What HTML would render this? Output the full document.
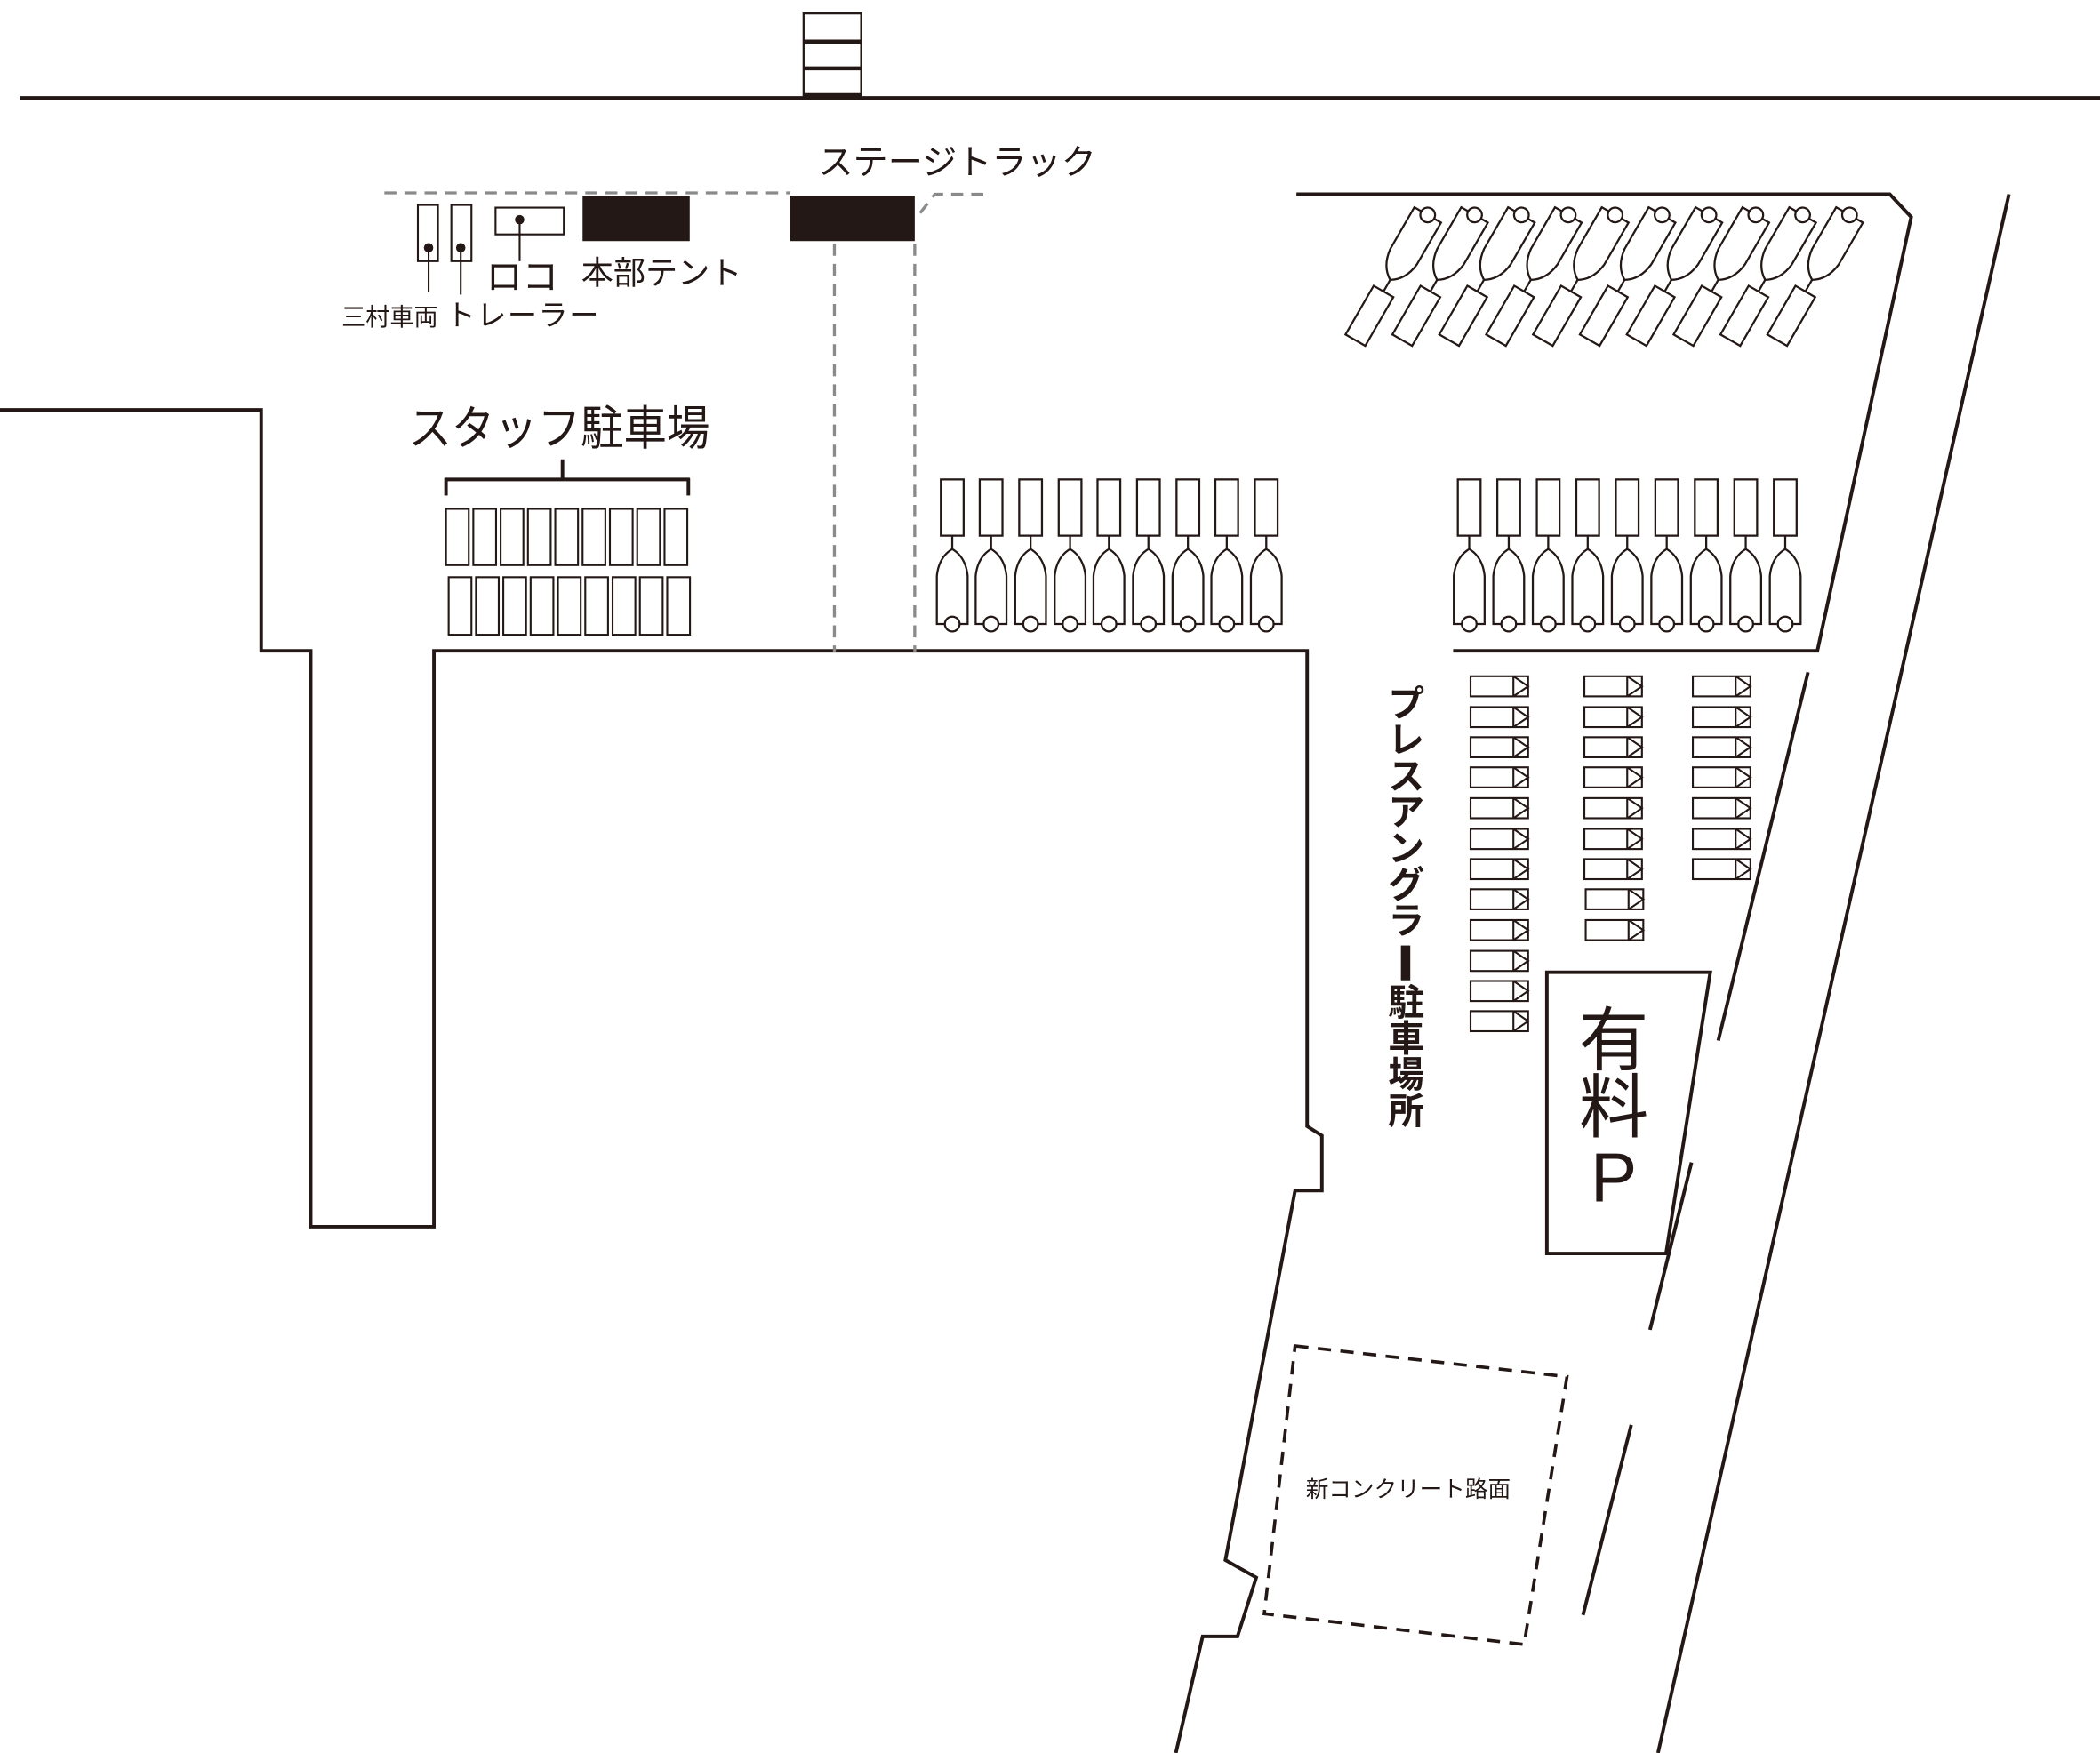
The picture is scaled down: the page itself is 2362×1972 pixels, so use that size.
<!DOCTYPE html>
<html><head><meta charset="utf-8"><style>
html,body{margin:0;padding:0;background:#fff;}
svg{display:block;}
text{font-family:"Liberation Sans","Noto Sans CJK JP",sans-serif;fill:#231815;}
</style></head><body>
<svg width="2362" height="1972" viewBox="0 0 1568 1309" xmlns="http://www.w3.org/2000/svg">
<defs>
<g id="tr" fill="#fff" stroke="#231815" stroke-width="1.5">
<rect x="-8.5" y="0" width="17" height="42"/>
<line x1="0" y1="42" x2="0" y2="52"/>
<path d="M-11.5,108 L-11.5,72 Q-10,58 0,52 Q10,58 11.5,72 L11.5,108 Z"/>
<circle cx="0" cy="108" r="5.5"/>
</g>
<g id="pb" fill="#fff" stroke="#231815" stroke-width="1.4">
<rect x="0" y="0" width="43" height="15"/>
<line x1="32" y1="0" x2="32" y2="15"/>
<polyline points="32,0 43,7.5 32,15" fill="none"/>
</g>
</defs>
<g fill="none" stroke="#231815" stroke-width="2.6">
<line x1="15" y1="73" x2="1568" y2="73"/>
<polyline points="0,306 195,306 195,486 232,486 232,916 324,916 324,486 976,486 976,841 987,848 987,889 967,889 915,1165 938,1178 924,1222 898,1222 878,1309"/>
<polyline points="968,145 1411,145 1427,162 1357,486 1085,486"/>
<line x1="1500" y1="145" x2="1238" y2="1309"/>
<line x1="1350" y1="502" x2="1283" y2="777"/>
<line x1="1263" y1="868" x2="1232" y2="993"/>
<line x1="1218" y1="1064" x2="1182" y2="1206"/>
<polygon points="1155,726 1277,726 1244,936 1155,936"/>
<line x1="332" y1="358" x2="515" y2="358"/>
<line x1="333" y1="357" x2="333" y2="370"/>
<line x1="514" y1="357" x2="514" y2="370"/>
<line x1="420" y1="343" x2="420" y2="358"/>
</g>
<g stroke="#231815" fill="#fff">
<rect x="600" y="10" width="43" height="62" stroke-width="1.5"/>
<line x1="600" y1="31" x2="643" y2="31" stroke-width="3"/>
<line x1="600" y1="51" x2="643" y2="51" stroke-width="3"/>
<line x1="600" y1="71" x2="643" y2="71" stroke-width="3"/>
</g>
<g fill="none" stroke="#8a8a8a" stroke-width="2.2" stroke-dasharray="9,6">
<line x1="287" y1="144" x2="590" y2="144"/>
<polyline points="687,159 698,145 740,145"/>
<line x1="623" y1="182" x2="623" y2="487"/>
<line x1="683" y1="182" x2="683" y2="487"/>
</g>
<rect x="435" y="146" width="80" height="34" fill="#231815"/>
<rect x="590" y="146" width="93" height="34" fill="#231815"/>
<g fill="none" stroke="#231815" stroke-width="1.4">
<rect x="312" y="153" width="15" height="42"/>
<rect x="337" y="153" width="15" height="42"/>
<rect x="370" y="155" width="51" height="20"/>
<line x1="320" y1="185" x2="320" y2="218"/>
<line x1="344" y1="185" x2="344" y2="220"/>
<line x1="388" y1="164" x2="388" y2="195"/>
</g>
<g fill="#231815"><circle cx="320" cy="185" r="3.5"/><circle cx="344" cy="185" r="3.5"/><circle cx="388" cy="164" r="3.5"/></g>
<text x="363" y="216" font-size="27">ロコ</text>
<text x="434" y="212" font-size="24">本部テント</text>
<text x="611" y="130" font-size="26">ステージトラック</text>
<text x="255" y="243" font-size="18">三村車両</text>
<text x="333" y="243" font-size="22" textLength="114">トレーラー</text>
<text x="305" y="332" font-size="35" textLength="225" lengthAdjust="spacingAndGlyphs">スタッフ駐車場</text>
<g fill="none" stroke="#231815" stroke-width="1.4">
<rect x="333" y="380" width="17" height="42"/><rect x="353.4" y="380" width="17" height="42"/><rect x="373.8" y="380" width="17" height="42"/><rect x="394.2" y="380" width="17" height="42"/><rect x="414.6" y="380" width="17" height="42"/><rect x="435" y="380" width="17" height="42"/><rect x="455.4" y="380" width="17" height="42"/><rect x="475.8" y="380" width="17" height="42"/><rect x="496.2" y="380" width="17" height="42"/>
<rect x="335" y="431" width="17" height="43"/><rect x="355.4" y="431" width="17" height="43"/><rect x="375.8" y="431" width="17" height="43"/><rect x="396.2" y="431" width="17" height="43"/><rect x="416.6" y="431" width="17" height="43"/><rect x="437" y="431" width="17" height="43"/><rect x="457.4" y="431" width="17" height="43"/><rect x="477.8" y="431" width="17" height="43"/><rect x="498.2" y="431" width="17" height="43"/>
</g>
<use href="#tr" x="711" y="358"/><use href="#tr" x="740" y="358"/><use href="#tr" x="769.5" y="358"/><use href="#tr" x="799" y="358"/><use href="#tr" x="828" y="358"/><use href="#tr" x="857.5" y="358"/><use href="#tr" x="887" y="358"/><use href="#tr" x="916" y="358"/><use href="#tr" x="945.5" y="358"/>
<use href="#tr" x="1097" y="358"/><use href="#tr" x="1126.5" y="358"/><use href="#tr" x="1156" y="358"/><use href="#tr" x="1185.5" y="358"/><use href="#tr" x="1215" y="358"/><use href="#tr" x="1244.5" y="358"/><use href="#tr" x="1274" y="358"/><use href="#tr" x="1303.5" y="358"/><use href="#tr" x="1333" y="358"/>
<use href="#tr" transform="translate(1012,254) rotate(210)"/>
<use href="#tr" transform="translate(1047,254) rotate(210)"/>
<use href="#tr" transform="translate(1082,254) rotate(210)"/>
<use href="#tr" transform="translate(1117,254) rotate(210)"/>
<use href="#tr" transform="translate(1152,254) rotate(210)"/>
<use href="#tr" transform="translate(1187,254) rotate(210)"/>
<use href="#tr" transform="translate(1222,254) rotate(210)"/>
<use href="#tr" transform="translate(1257,254) rotate(210)"/>
<use href="#tr" transform="translate(1292,254) rotate(210)"/>
<use href="#tr" transform="translate(1327,254) rotate(210)"/>
<use href="#pb" x="1098" y="505"/><use href="#pb" x="1098" y="528"/><use href="#pb" x="1098" y="550.5"/><use href="#pb" x="1098" y="573"/><use href="#pb" x="1098" y="596"/><use href="#pb" x="1098" y="619"/><use href="#pb" x="1098" y="641.5"/><use href="#pb" x="1098" y="664"/><use href="#pb" x="1098" y="687"/><use href="#pb" x="1098" y="710"/><use href="#pb" x="1098" y="732.5"/><use href="#pb" x="1098" y="755"/>
<use href="#pb" x="1183" y="505"/><use href="#pb" x="1183" y="528"/><use href="#pb" x="1183" y="550.5"/><use href="#pb" x="1183" y="573"/><use href="#pb" x="1183" y="596"/><use href="#pb" x="1183" y="619"/><use href="#pb" x="1183" y="641.5"/><use href="#pb" x="1184" y="664"/><use href="#pb" x="1184" y="687"/>
<use href="#pb" x="1264" y="505"/><use href="#pb" x="1264" y="528"/><use href="#pb" x="1264" y="550.5"/><use href="#pb" x="1264" y="573"/><use href="#pb" x="1264" y="596"/><use href="#pb" x="1264" y="619"/><use href="#pb" x="1264" y="641.5"/>
<g font-size="27" font-weight="bold" text-anchor="middle">
<text x="1050" y="535">プ</text><text x="1050" y="562">レ</text><text x="1050" y="589">ス</text><text x="1050" y="616">ア</text><text x="1050" y="643">ン</text><text x="1050" y="670">グ</text><text x="1050" y="697">ラ</text>
<rect x="1046" y="706" width="7" height="26" fill="#231815"/>
<text x="1050" y="758">駐</text><text x="1050" y="785">車</text><text x="1050" y="812">場</text><text x="1050" y="839">所</text>
</g>
<g font-size="52" text-anchor="middle">
<text x="1205" y="795">有</text><text x="1205" y="845">料</text><text x="1205" y="897">P</text>
</g>
<polygon points="967,1005 1170,1028 1138,1228 944,1205" fill="none" stroke="#231815" stroke-width="2.4" stroke-dasharray="10,7"/>
<text x="975" y="1118" font-size="17">新コンクリート路面</text>
</svg>
</body></html>
